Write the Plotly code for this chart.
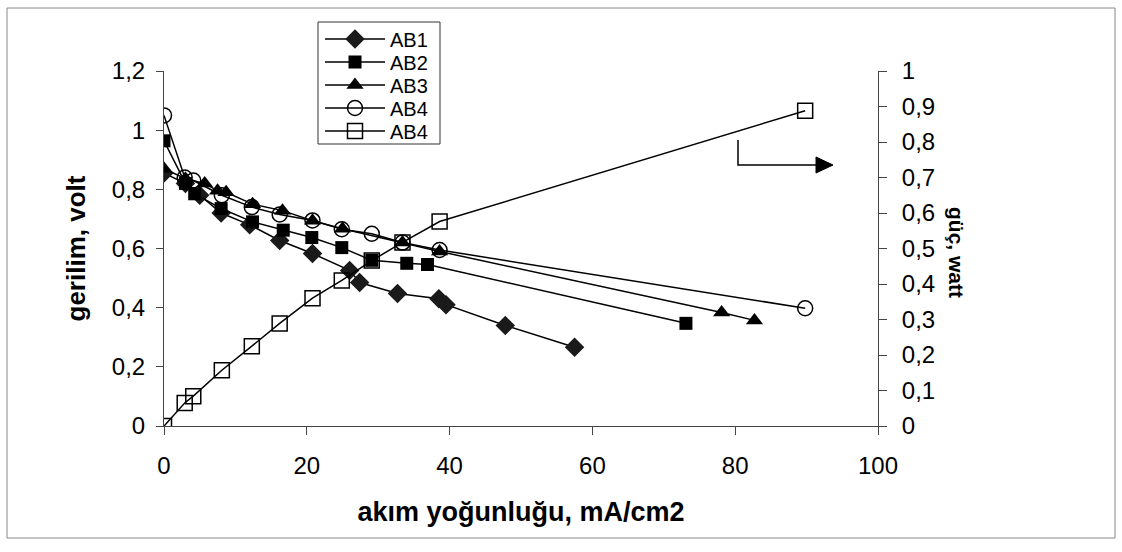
import plotly.graph_objects as go

# current density (mA/cm2) and voltage (V)
ab1_x = [0, 3, 5, 8, 12, 16.2, 20.8, 26, 27.4, 32.7, 38.5, 39.5, 47.8, 57.5]
ab1_v = [0.855, 0.82, 0.78, 0.72, 0.68, 0.627, 0.583, 0.526, 0.485, 0.448, 0.43, 0.41, 0.34, 0.266]

ab2_x = [0, 3, 4.3, 8, 12.4, 16.7, 20.7, 24.9, 29.1, 34, 36.9, 73.1]
ab2_v = [0.964, 0.82, 0.785, 0.735, 0.69, 0.662, 0.637, 0.603, 0.56, 0.55, 0.546, 0.347]

ab3_x = [0, 3, 5.7, 7.5, 8.7, 12.4, 16.6, 20.8, 25, 33.4, 38.6, 78.1, 82.7]
ab3_v = [0.87, 0.836, 0.82, 0.795, 0.79, 0.75, 0.728, 0.694, 0.667, 0.62, 0.59, 0.384, 0.357]

ab4_x = [0, 2.9, 4.1, 8.1, 12.3, 16.2, 20.8, 24.9, 29.1, 33.4, 38.6, 89.8]
ab4_v = [1.05, 0.84, 0.83, 0.78, 0.74, 0.715, 0.695, 0.665, 0.65, 0.62, 0.595, 0.398]

# power (W) on secondary axis
ab4p_x = [0, 2.9, 4.1, 8.1, 12.3, 16.2, 20.8, 24.9, 29.1, 33.4, 38.6, 89.8]
ab4p_w = [0, 0.065, 0.084, 0.157, 0.225, 0.289, 0.36, 0.41, 0.466, 0.517, 0.576, 0.888]

series_names = ["AB1", "AB2", "AB3", "AB4", "AB4"]

x_ticks = [0, 20, 40, 60, 80, 100]
y_ticks = [0, 0.2, 0.4, 0.6, 0.8, 1.0, 1.2]
y2_ticks = [0, 0.1, 0.2, 0.3, 0.4, 0.5, 0.6, 0.7, 0.8, 0.9, 1.0]

FONT = "Liberation Sans, Arial, sans-serif"
L, R, T, B = 164, 878, 71, 426
W, H = 1122, 552


def px(X):
    return (X - L) / (R - L)


def py(Y):
    return (B - Y) / (B - T)


fig = go.Figure()
line = dict(color="black", width=1.5)
legend_ids = ["legend", "legend2", "legend3", "legend4", "legend5"]
specs = [
    (ab1_x, ab1_v, "y", dict(symbol="diamond", size=15, color="#1a1a1a")),
    (ab2_x, ab2_v, "y", dict(symbol="square", size=13, color="black")),
    (ab3_x, ab3_v, "y", dict(symbol="triangle-up", size=15, color="black")),
    (ab4_x, ab4_v, "y", dict(symbol="circle-open", size=15, color="black", line=dict(width=1.5))),
    (ab4p_x, ab4p_w, "y2", dict(symbol="square-open", size=15, color="black", line=dict(width=1.5))),
]
for (xs, ys, yax, mk), nm, lg in zip(specs, series_names, legend_ids):
    fig.add_trace(go.Scatter(x=xs, y=ys, name=nm, mode="lines+markers", line=line,
                             marker=mk, yaxis=yax, legend=lg))

shapes = [
    # outer frame
    dict(type="rect", xref="paper", yref="paper", x0=px(7), x1=px(1115), y0=py(538), y1=py(8),
         line=dict(color="#888", width=1)),
    # legend frame
    dict(type="rect", xref="paper", yref="paper", x0=px(318), x1=px(440), y0=py(144), y1=py(22),
         line=dict(color="#333", width=1), fillcolor="white", layer="below"),
    # L-shaped arrow pointing to the right axis
    dict(type="path", xref="paper", yref="paper",
         path=f"M {px(738)} {py(140)} L {px(738)} {py(165)} L {px(820)} {py(165)}",
         line=dict(color="black", width=1.5)),
    dict(type="path", xref="paper", yref="paper",
         path=f"M {px(816)} {py(157)} L {px(833)} {py(165)} L {px(816)} {py(173)} Z",
         fillcolor="black", line=dict(color="black", width=1)),
]

annotations = [
    dict(text="<b>güç, watt</b>", xref="paper", yref="paper", x=px(957), y=py(252),
         xanchor="center", yanchor="middle", showarrow=False, textangle=90,
         font=dict(size=21, family=FONT, color="black")),
]

layout_legends = {}
row_y = [39, 62, 85, 108, 131]
for lg, ry in zip(legend_ids, row_y):
    layout_legends[lg] = dict(x=px(320), y=py(ry), xanchor="left", yanchor="middle",
                              bgcolor="rgba(0,0,0,0)", borderwidth=0,
                              font=dict(size=20), itemwidth=60)

fig.update_layout(
    width=W, height=H,
    margin=dict(l=L, r=W - R, t=T, b=H - B, pad=0),
    paper_bgcolor="white", plot_bgcolor="white",
    separators=", ",
    font=dict(family=FONT, size=24, color="black"),
    showlegend=True,
    xaxis=dict(range=[0, 100], tickvals=x_ticks, showgrid=False, zeroline=False,
               showline=True, linecolor="#444", linewidth=1,
               ticks="outside", ticklen=8, tickcolor="#444", ticklabelstandoff=10,
               tickfont=dict(size=24),
               title=dict(text="<b>akım yoğunluğu, mA/cm2</b>", font=dict(size=27), standoff=24)),
    yaxis=dict(range=[0, 1.2], tickvals=y_ticks, showgrid=False, zeroline=False,
               showline=True, linecolor="#444", linewidth=1,
               ticks="outside", ticklen=7, tickcolor="#444", ticklabelstandoff=6,
               tickfont=dict(size=24),
               title=dict(text="<b>gerilim, volt</b>", font=dict(size=26), standoff=18)),
    yaxis2=dict(range=[0, 1], tickvals=y2_ticks, overlaying="y", side="right",
                showgrid=False, zeroline=False, showline=True, linecolor="#444", linewidth=1,
                ticks="outside", ticklen=8, tickcolor="#444", ticklabelstandoff=10,
                tickfont=dict(size=24)),
    shapes=shapes,
    annotations=annotations,
    **layout_legends,
)

fig.write_html("out.html")
